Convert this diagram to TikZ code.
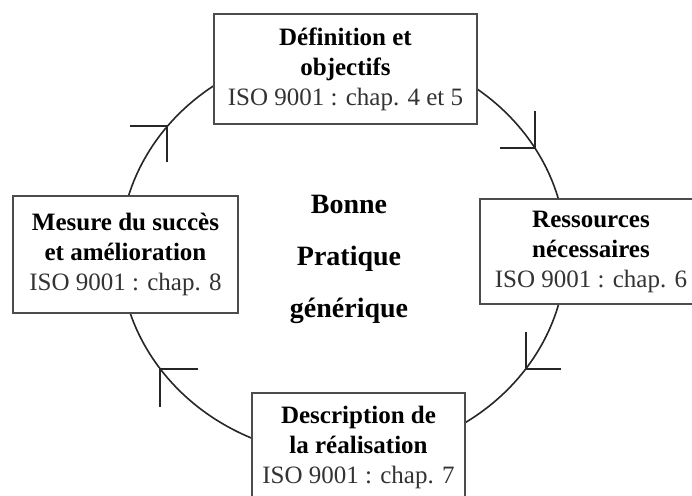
\documentclass[tikz,border=0pt]{standalone}
\usepackage{fontspec}
\setmainfont{Liberation Serif}
\usepackage{xcolor}
\usepackage{tikz}
\usetikzlibrary{calc}
\definecolor{isogray}{gray}{0.2}

\begin{document}
\begin{tikzpicture}[x=0.5pt,y=0.5pt,
  ring/.style={draw=black!85,line width=0.8pt},
  stage/.style={draw=black!70,line width=1pt,fill=white,align=center,
              font=\fontsize{12.5}{15}\selectfont,inner sep=2pt},
  barb/.style={draw=black!85,line width=1pt}]
\path[use as bounding box,clip] (0,0) rectangle (692,496);
\coordinate (O) at (343,244);
\draw[ring] (O) ellipse [x radius=223,y radius=204];
% open arrow heads on the cycle, clockwise
\coordinate (t1) at ($(O)+(142:223 and 204)$);
\coordinate (t2) at ($(O)+(30.6:223 and 204)$);
\coordinate (t3) at ($(O)+(-35:223 and 204)$);
\coordinate (t4) at ($(O)+(215:223 and 204)$);
\draw[barb] ($(t1)+(-37,0)$) -- (t1) -- ++(0,-36);
\draw[barb] ($(t2)+(-35,0)$) -- (t2) -- ++(0,37);
\draw[barb] ($(t3)+(0,37)$) -- (t3) -- ++(35,0);
\draw[barb] ($(t4)+(38,0)$) -- (t4) -- ++(0,-38);
% the four stages
\node[stage,minimum width=131.5pt,minimum height=55pt] (def) at (345.5,427)
   {\textbf{Définition et}\\\textbf{objectifs}\\
    \textcolor{isogray}{ISO 9001 : chap. 4 et 5}};
\node[stage,minimum width=111pt,minimum height=52.5pt] (res) at (591,244.5)
   {\textbf{Ressources}\\\textbf{nécessaires}\\
    \textcolor{isogray}{ISO 9001 : chap. 6}};
\node[stage,minimum width=106.5pt,minimum height=54pt] (real) at (358.5,49)
   {\textbf{Description de}\\\textbf{la réalisation}\\
    \textcolor{isogray}{ISO 9001 : chap. 7}};
\node[stage,minimum width=112.5pt,minimum height=58.5pt] (mes) at (125.5,241.5)
   {\textbf{Mesure du succès}\\\textbf{et amélioration}\\
    \textcolor{isogray}{ISO 9001 : chap. 8}};
\node[font=\fontsize{14}{26}\selectfont\bfseries,align=center] (bp) at (349,237)
   {Bonne\\Pratique\\générique};
\end{tikzpicture}
\end{document}
